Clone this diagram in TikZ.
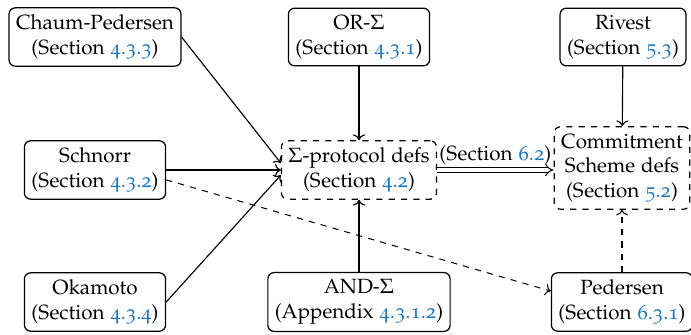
\documentclass[tikz,border=0pt]{standalone}
\usepackage[T1]{fontenc}
\usepackage[osf]{mathpazo}
\usetikzlibrary{arrows.meta}
\definecolor{linkblue}{RGB}{30,120,190}
\newcommand{\secnum}[1]{\textcolor{linkblue}{#1}}

\begin{document}
\begin{tikzpicture}[x=0.4854pt, y=-0.4854pt,
  box/.style={draw, rounded corners=3pt, align=center, line width=0.6pt, inner sep=3.4pt},
  defbox/.style={box, dashed},
  link/.style={->, line width=0.55pt},
  weak/.style={->, dashed, line width=0.5pt},
  implication/.style={double, double distance=1.6pt, line width=0.5pt, -{Implies}}]
  \useasboundingbox (0,0) rectangle (691,335);

  % top row
  \node[box] (cp)     at (95,37)  {Chaum-Pedersen\\(Section \secnum{4.3.3})};
  \node[box] (orsig)  at (359,37) {OR-$\Sigma$\\(Section \secnum{4.3.1})};
  \node[box] (rivest) at (623,37) {Rivest\\(Section \secnum{5.3})};

  % middle row
  \node[box]    (schnorr) at (95,170)  {Schnorr\\(Section \secnum{4.3.2})};
  \node[defbox] (sigma)   at (359,170) {$\Sigma$-protocol defs\\(Section \secnum{4.2})};
  \node[defbox] (commit)  at (622,168) {Commitment\\Scheme defs\\(Section \secnum{5.2})};

  % bottom row
  \node[box] (okamoto)  at (95,302)  {Okamoto\\(Section \secnum{4.3.4})};
  \node[box] (andsig)   at (359,302) {AND-$\Sigma$\\(Appendix \secnum{4.3.1.2})};
  \node[box] (pedersen) at (622,302) {Pedersen\\(Section \secnum{6.3.1})};

  % instances of Sigma-protocols
  \draw[link] (cp.east) -- ([yshift=3.4pt]sigma.west);
  \draw[link] (schnorr.east) -- (sigma.west);
  \draw[link] (okamoto.east) -- ([yshift=-2.5pt]sigma.west);
  \draw[link] (orsig) -- (sigma);
  \draw[link] (andsig) -- (sigma);

  % commitment schemes
  \draw[link] (rivest) -- (commit);
  \draw[weak] (pedersen) -- (commit);
  \draw[weak] ([yshift=-4.8pt]schnorr.east) -- ([yshift=5.3pt]pedersen.west);

  % Sigma-protocols give commitment schemes
  \draw[implication] (sigma.east) -- (commit.west |- sigma.east)
    node[midway, above, inner sep=2pt] {(Section \secnum{6.2})};
\end{tikzpicture}
\end{document}
